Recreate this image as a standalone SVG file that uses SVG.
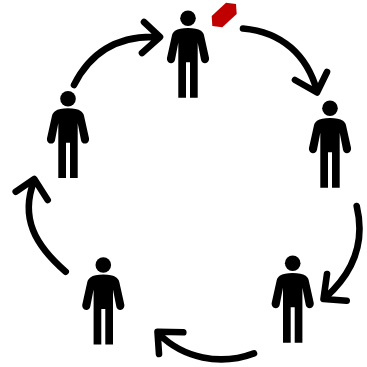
<svg xmlns="http://www.w3.org/2000/svg" width="367" height="367" viewBox="0 0 367 367">
<style>
.arrow{fill:none;stroke:#000;stroke-width:6.6;stroke-linecap:round;stroke-linejoin:round}
.body{fill:#000}
</style>
<defs>
<g id="person">
<circle class="body" cx="0" cy="0" r="7.8"/>
<path class="body" d="M0,9.6C-6,9.6 -10,10.5 -13,12.5C-14.5,13.6 -15.5,15 -16,17L-21,39.5C-21.5,42.5 -19.5,44.8 -17.2,44.9C-15,45 -13.5,43.8 -13,41.5L-9.7,24.5V79.4H-2V44H2V79.4H9.7V24.5L13,41.5C13.5,43.8 15,45 17.2,44.9C19.5,44.8 21.5,42.5 21,39.5L16,17C15.5,15 14.5,13.6 13,12.5C10,10.5 6,9.6 0,9.6Z"/>
</g>
</defs>
<g id="connectors">
<path class="arrow" d="M74,85C88,57 113,35 158,37M144,22L160,37L142,53"/>
<path class="arrow" d="M243,28.5C282,32 307,55 317,91M295,80L317,92.5L327,72"/>
<path class="arrow" d="M356.7,206C366,245 351,275 325,298M327,274L323.5,299L346.7,300.7"/>
<path class="arrow" d="M254,353.3C220,366 183,358 159,334M183.3,332.3L157.5,331.7L159,354"/>
<path class="arrow" d="M65.7,271.7C35,245 20,218 34,181M15.7,191.7L34.3,179L47.7,200"/>
</g>
<g id="person-top"><use href="#person" x="188" y="18.3"/></g>
<g id="person-right"><use href="#person" x="330" y="108.3"/></g>
<g id="person-bottom-right"><use href="#person" x="292.7" y="263.3"/></g>
<g id="person-bottom-left"><use href="#person" x="103.3" y="265"/></g>
<g id="person-left"><use href="#person" x="68" y="98.7"/></g>
<g id="token"><polygon points="226,2.7 236,4 236.7,14 222.3,27.3 212.3,26 211.7,16" fill="#c00000"/></g>
</svg>
